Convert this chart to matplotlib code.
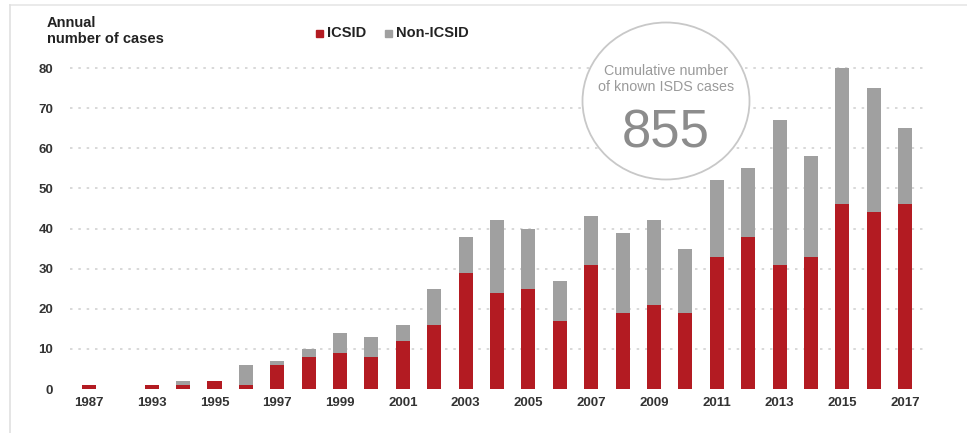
import matplotlib
matplotlib.use("Agg")
import matplotlib.pyplot as plt
from matplotlib import font_manager
from matplotlib.patches import Ellipse, Rectangle

names = {f.name for f in font_manager.fontManager.ttflist}
FONT = "Liberation Sans Narrow" if "Liberation Sans Narrow" in names else "Liberation Sans"
plt.rcParams["font.family"] = [FONT, "DejaVu Sans"]

# data (blank slot between 1987 and 1993)
years = ["1987", ""] + [str(y) for y in range(1993, 2018)]
icsid = [1, 0, 1, 1, 2, 1, 6, 8, 9, 8, 12, 16, 29, 24, 25, 17, 31, 19, 21, 19,
         33, 38, 31, 33, 46, 44, 46]
non_icsid = [0, 0, 0, 1, 0, 5, 1, 2, 5, 5, 4, 9, 9, 18, 15, 10, 12, 20, 21, 16,
             19, 17, 36, 25, 34, 31, 19]
total_cases = sum(icsid) + sum(non_icsid)

RED = "#b31b22"
GREY = "#a0a0a0"

W, H = 967, 433
fig = plt.figure(figsize=(W / 100, H / 100), dpi=100)
ax = fig.add_axes([70 / W, 1 - 389 / H, (925 - 70) / W, (389 - 60) / H])

x = list(range(len(years)))
ax.bar(x, icsid, width=0.45, color=RED, zorder=3)
ax.bar(x, non_icsid, width=0.45, bottom=icsid, color=GREY, zorder=3)

ax.set_xlim(-0.6, len(years) - 0.37)
ax.set_ylim(0, 82)
ax.set_yticks(range(0, 81, 10))
ax.set_xticks(x[::2])
ax.set_xticklabels(years[::2])
ax.tick_params(length=0, labelsize=9.5, labelcolor="#333333")
ax.tick_params(axis="x", pad=6)
ax.tick_params(axis="y", pad=12)
for lbl in ax.get_xticklabels() + ax.get_yticklabels():
    lbl.set_fontweight("bold")
for s in ax.spines.values():
    s.set_visible(False)
for v in range(10, 81, 10):
    ax.axhline(v, color="#d2d2d2", lw=1.2, ls=(0, (1.5, 3.5)), zorder=1)

# title and legend
fig.text(47 / W, 1 - 16 / H, "Annual\nnumber of cases", ha="left", va="top",
         fontsize=10.5, fontweight="bold", color="#222222", linespacing=1.15)
fig.patches.append(Rectangle((316 / W, 1 - 37 / H), 7 / W, 7 / H,
                             transform=fig.transFigure, color=RED))
fig.text(327 / W, 1 - 33 / H, "ICSID", ha="left", va="center",
         fontsize=10.5, fontweight="bold", color="#222222")
fig.patches.append(Rectangle((385 / W, 1 - 37 / H), 7 / W, 7 / H,
                             transform=fig.transFigure, color=GREY))
fig.text(396 / W, 1 - 33 / H, "Non-ICSID", ha="left", va="center",
         fontsize=10.5, fontweight="bold", color="#222222")

# cumulative circle
fig.patches.append(Ellipse((666 / W, 1 - 101 / H), 167 / W, 157 / H,
                           transform=fig.transFigure, facecolor="white",
                           edgecolor="#c8c8c8", lw=1.3, zorder=5))
fig.text(666 / W, 1 - 79 / H, "Cumulative number\nof known ISDS cases",
         ha="center", va="center", fontsize=10.3, color="#9a9a9a",
         linespacing=1.2, zorder=6)
fig.text(666 / W, 1 - 133 / H, f"{total_cases}", ha="center", va="center",
         fontsize=38, color="#8c8c8c", zorder=6)

# frame of the screenshot
fig.add_artist(plt.Line2D([10 / W, 1], [1 - 5 / H] * 2, transform=fig.transFigure,
                          color="#e6e6e6", lw=1.2))
fig.add_artist(plt.Line2D([10 / W] * 2, [1 - 5 / H, 0], transform=fig.transFigure,
                          color="#e0e0e0", lw=1.2))

fig.savefig("out.png", dpi=100)
